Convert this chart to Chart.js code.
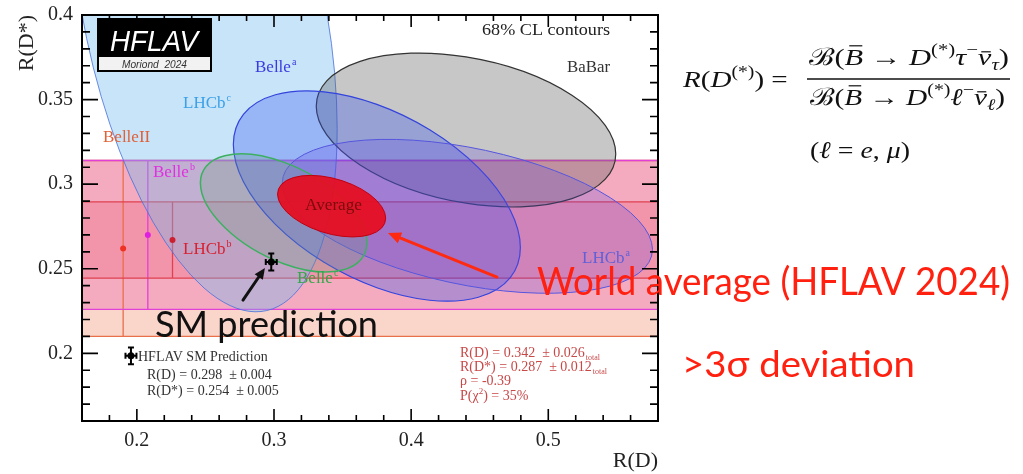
<!DOCTYPE html>
<html><head><meta charset="utf-8">
<script src="https://cdn.jsdelivr.net/npm/chart.js@4.4.1/dist/chart.umd.min.js"></script>
<style>html,body{margin:0;padding:0;background:#fff;overflow:hidden}#wrap{width:1023px;height:474px}</style>
</head><body><div id="wrap"><canvas id="c" width="1023" height="474"></canvas></div>
<script>
// ---------------- data ----------------
const xTickValues = [0.2, 0.3, 0.4, 0.5];
const xTickLabels = ['0.2', '0.3', '0.4', '0.5'];
const yTickValues = [0.2, 0.25, 0.3, 0.35, 0.4];
const yTickLabels = ['0.2', '0.25', '0.3', '0.35', '0.4'];
const xMinorTicks = [0.18,0.20,0.22,0.24,0.26,0.28,0.30,0.32,0.34,0.36,0.38,0.40,0.42,0.44,0.46,0.48,0.50,0.52,0.54,0.56];
const yMinorTicks = [0.17,0.18,0.19,0.20,0.21,0.22,0.23,0.24,0.25,0.26,0.27,0.28,0.29,0.30,0.31,0.32,0.33,0.34,0.35,0.36,0.37,0.38,0.39];

// 2D measurements (68% CL contours)
const ellipseNames   = ['LHCb^c', 'BaBar', 'Belle^a', 'LHCb^a', 'Belle^c', 'Average'];
const ellipseRD      = [0.249, 0.440, 0.375, 0.441, 0.307, 0.342];
const ellipseRDst    = [0.402, 0.332, 0.293, 0.281, 0.283, 0.287];
const ellipseErrRD   = [0.064, 0.072, 0.069, 0.089, 0.040, 0.026];
const ellipseErrRDst = [0.117, 0.030, 0.041, 0.030, 0.023, 0.012];
const ellipseRho     = [-0.39, -0.31, -0.49, -0.43, -0.51, -0.39];

// R(D*)-only measurements (bands)
const bandNames    = ['BelleII', 'Belle^b', 'LHCb^b'];
const bandRDst     = [0.262, 0.270, 0.267];
const bandErr      = [0.052, 0.044, 0.0225];
const bandMarkerRD = [0.190, 0.208, 0.226];

// SM prediction
const smRD = 0.298, smErrRD = 0.004, smRDst = 0.254, smErrRDst = 0.005;
const smLegendRD = 0.1957, smLegendRDst = 0.1985;

// ---------------- styles ----------------
const ellipseStyle = {
  'LHCb^c':  {fill: 'rgba(110,185,240,0.38)', stroke: 'rgba(70,110,220,0.8)', lw: 1},
  'BaBar':   {fill: 'rgba(100,100,100,0.36)', stroke: '#333333', lw: 1.2},
  'Belle^a': {fill: 'rgba(50,80,235,0.32)',  stroke: '#3344dd', lw: 1.2},
  'LHCb^a':  {fill: 'rgba(95,70,225,0.24)',  stroke: '#5555dd', lw: 1},
  'Belle^c': {fill: 'rgba(110,160,130,0.26)', stroke: '#3cb060', lw: 1.5},
  'Average': {fill: 'rgba(232,12,30,0.92)',  stroke: '#c00010', lw: 1}
};
const bandStyle = {
  'BelleII': {fill: 'rgba(240,120,80,0.30)', line: '#e8704a', marker: '#ee3322'},
  'Belle^b': {fill: 'rgba(230,70,170,0.30)', line: '#e040d8', marker: '#e020e0'},
  'LHCb^b':  {fill: 'rgba(240,50,70,0.18)',  line: '#e04050', marker: '#cc2030'}
};
const SERIF = '"Liberation Serif", "DejaVu Serif", serif';

function supText(ctx, main, sup, x, y, size, color) {
  ctx.fillStyle = color;
  ctx.font = size + 'px ' + SERIF;
  ctx.textAlign = 'left'; ctx.textBaseline = 'alphabetic';
  ctx.fillText(main, x, y);
  const w = ctx.measureText(main).width;
  if (sup) {
    ctx.font = Math.round(size * 0.6) + 'px ' + SERIF;
    ctx.fillText(sup, x + w + 1, y - size * 0.42);
  }
}
function fitText(ctx, text, x, y, width, font, color) {
  ctx.save();
  ctx.font = font; ctx.fillStyle = color;
  ctx.textAlign = 'left'; ctx.textBaseline = 'alphabetic';
  const w = ctx.measureText(text).width;
  ctx.translate(x, y); ctx.scale(width / w, 1);
  ctx.fillText(text, 0, 0);
  ctx.restore();
}
function mathRun(ctx, segs, x, y, size, targetW) {
  let total = 0;
  const parts = segs.map(s => {
    const fs = (s.sup || s.sub) ? size * 0.68 : size;
    const font = (s.i ? 'italic ' : '') + fs + 'px ' + SERIF;
    ctx.font = font;
    const w = ctx.measureText(s.t).width;
    total += w;
    return {s, font, w};
  });
  const sc = targetW ? targetW / total : 1;
  ctx.save();
  ctx.translate(x, y); ctx.scale(sc, 1);
  ctx.fillStyle = '#111'; ctx.strokeStyle = '#111'; ctx.textAlign = 'left'; ctx.textBaseline = 'alphabetic';
  let cx = 0;
  for (const p of parts) {
    ctx.font = p.font;
    const dy = p.s.sup ? -size * 0.4 : (p.s.sub ? size * 0.2 : 0);
    ctx.fillText(p.s.t, cx, dy);
    if (p.s.bar) {
      ctx.lineWidth = 1.2;
      ctx.beginPath();
      const by = p.s.t === 'B' ? -size * 0.8 : -size * 0.55;
      ctx.moveTo(cx + p.w * 0.25, by); ctx.lineTo(cx + p.w * 0.95, by); ctx.stroke();
    }
    cx += p.w;
  }
  ctx.restore();
}
function arrow(ctx, x0, y0, x1, y1, color, lw, head) {
  const ang = Math.atan2(y1 - y0, x1 - x0);
  const bx = x1 - head * Math.cos(ang), by = y1 - head * Math.sin(ang);
  ctx.save();
  ctx.strokeStyle = color; ctx.fillStyle = color; ctx.lineWidth = lw; ctx.lineCap = 'round';
  ctx.beginPath(); ctx.moveTo(x0, y0); ctx.lineTo(bx, by); ctx.stroke();
  ctx.beginPath();
  ctx.moveTo(x1, y1);
  ctx.lineTo(bx + head * 0.45 * Math.sin(ang), by - head * 0.45 * Math.cos(ang));
  ctx.lineTo(bx - head * 0.45 * Math.sin(ang), by + head * 0.45 * Math.cos(ang));
  ctx.closePath(); ctx.fill();
  ctx.restore();
}
function errorCross(ctx, xs, ys, cx, cy, ex, ey) {
  const px = xs.getPixelForValue(cx), py = ys.getPixelForValue(cy);
  const x0 = xs.getPixelForValue(cx - ex), x1 = xs.getPixelForValue(cx + ex);
  const y0 = ys.getPixelForValue(cy - ey), y1 = ys.getPixelForValue(cy + ey);
  ctx.save();
  ctx.strokeStyle = '#000'; ctx.lineWidth = 2;
  ctx.beginPath();
  ctx.moveTo(x0, py); ctx.lineTo(x1, py);
  ctx.moveTo(px, y0); ctx.lineTo(px, y1);
  ctx.moveTo(x0, py - 3); ctx.lineTo(x0, py + 3);
  ctx.moveTo(x1, py - 3); ctx.lineTo(x1, py + 3);
  ctx.moveTo(px - 3, y0); ctx.lineTo(px + 3, y0);
  ctx.moveTo(px - 3, y1); ctx.lineTo(px + 3, y1);
  ctx.stroke();
  ctx.restore();
}

const hflavPlugin = {
  id: 'hflav',
  beforeDatasetsDraw(chart) {
    const {ctx, chartArea: a, scales: {x, y}} = chart;
    ctx.save();
    ctx.beginPath(); ctx.rect(a.left, a.top, a.right - a.left, a.bottom - a.top); ctx.clip();
    bandNames.forEach((n, i) => {
      const st = bandStyle[n];
      const yt = y.getPixelForValue(bandRDst[i] + bandErr[i]);
      const yb = y.getPixelForValue(bandRDst[i] - bandErr[i]);
      ctx.fillStyle = st.fill;
      ctx.fillRect(a.left, yt, a.right - a.left, yb - yt);
    });
    bandNames.forEach((n, i) => {
      const st = bandStyle[n];
      const yt = y.getPixelForValue(bandRDst[i] + bandErr[i]);
      const yb = y.getPixelForValue(bandRDst[i] - bandErr[i]);
      const xm = x.getPixelForValue(bandMarkerRD[i]);
      ctx.strokeStyle = st.line; ctx.lineWidth = 1.3;
      ctx.beginPath();
      ctx.moveTo(a.left, yt); ctx.lineTo(a.right, yt);
      ctx.moveTo(a.left, yb); ctx.lineTo(a.right, yb);
      ctx.moveTo(xm, yt); ctx.lineTo(xm, yb);
      ctx.stroke();
    });
    const k = Math.sqrt(2.30);
    ellipseNames.forEach((n, i) => {
      const st = ellipseStyle[n];
      const cx = ellipseRD[i], cy = ellipseRDst[i], sx = ellipseErrRD[i], sy = ellipseErrRDst[i], r = ellipseRho[i];
      const c0x = x.getPixelForValue(cx), c0y = y.getPixelForValue(cy);
      const ax = x.getPixelForValue(cx + k * sx) - c0x;
      const ay = y.getPixelForValue(cy + k * sy * r) - c0y;
      const by = y.getPixelForValue(cy + k * sy * Math.sqrt(1 - r * r)) - c0y;
      ctx.save();
      ctx.beginPath();
      ctx.transform(ax, ay, 0, by, c0x, c0y);
      ctx.arc(0, 0, 1, 0, Math.PI * 2);
      ctx.restore();
      ctx.fillStyle = st.fill; ctx.fill();
      ctx.strokeStyle = st.stroke; ctx.lineWidth = st.lw; ctx.stroke();
    });
    ctx.restore();
  },
  afterDatasetsDraw(chart) {
    const {ctx, chartArea: a, scales: {x, y}} = chart;
    errorCross(ctx, x, y, smRD, smRDst, smErrRD, smErrRDst);
    errorCross(ctx, x, y, smLegendRD, smLegendRDst, smErrRD, smErrRDst);

    ctx.save();
    ctx.strokeStyle = '#000'; ctx.lineWidth = 2;
    ctx.strokeRect(a.left, a.top, a.right - a.left, a.bottom - a.top);
    ctx.lineWidth = 1.6;
    ctx.beginPath();
    const isMaj = (v, arr) => arr.some(m => Math.abs(m - v) < 1e-9);
    xMinorTicks.forEach(v => {
      const px = x.getPixelForValue(v);
      const L = isMaj(v, xTickValues) ? 12 : 6;
      ctx.moveTo(px, a.bottom); ctx.lineTo(px, a.bottom - L);
      ctx.moveTo(px, a.top); ctx.lineTo(px, a.top + L);
    });
    yMinorTicks.concat(yTickValues).forEach(v => {
      const py = y.getPixelForValue(v);
      const L = isMaj(v, yTickValues) ? 16 : 8;
      ctx.moveTo(a.left, py); ctx.lineTo(a.left + L, py);
      ctx.moveTo(a.right, py); ctx.lineTo(a.right - L, py);
    });
    ctx.stroke();
    ctx.restore();

    ctx.save();
    fitText(ctx, '68% CL contours', 482, 35, 128, '17px ' + SERIF, '#222');
    fitText(ctx, 'BaBar', 567, 72, 43, '17px ' + SERIF, '#333');
    supText(ctx, 'Belle', 'a', 255, 72, 17, '#3a3ae0');
    supText(ctx, 'LHCb', 'c', 183, 108, 17, '#3aa0e8');
    supText(ctx, 'BelleII', '', 103, 142, 17, '#e0603a');
    supText(ctx, 'Belle', 'b', 153, 177, 17, '#e030e0');
    fitText(ctx, 'Average', 305, 210, 57, '17px ' + SERIF, '#7a0c0c');
    supText(ctx, 'LHCb', 'b', 183, 254, 17, '#d82030');
    supText(ctx, 'Belle', 'c', 297, 283, 17, '#30a848');
    supText(ctx, 'LHCb', 'a', 582, 263, 17, '#6060d8');

    ctx.fillStyle = '#333'; ctx.font = '14px ' + SERIF; ctx.textAlign = 'left'; ctx.textBaseline = 'alphabetic';
    ctx.fillText('HFLAV SM Prediction', 138, 361);
    ctx.fillText('R(D) = 0.298  \u00b1 0.004', 147, 379);
    ctx.fillText('R(D*) = 0.254  \u00b1 0.005', 147, 395);

    const red = '#c84848';
    ctx.fillStyle = red; ctx.font = '14px ' + SERIF;
    let t = 'R(D) = 0.342  \u00b1 0.026'; ctx.fillText(t, 460, 357);
    let w = ctx.measureText(t).width; ctx.font = '8px ' + SERIF; ctx.fillText('total', 460 + w + 1, 360);
    ctx.font = '14px ' + SERIF;
    t = 'R(D*) = 0.287  \u00b1 0.012'; ctx.fillText(t, 460, 371);
    w = ctx.measureText(t).width; ctx.font = '8px ' + SERIF; ctx.fillText('total', 460 + w + 1, 374);
    ctx.font = '14px ' + SERIF;
    ctx.fillText('\u03c1 = -0.39', 460, 385);
    t = 'P(\u03c7'; ctx.fillText(t, 460, 400);
    w = ctx.measureText(t).width; ctx.font = '9px ' + SERIF; ctx.fillText('2', 460 + w, 394);
    const w2 = ctx.measureText('2').width; ctx.font = '14px ' + SERIF; ctx.fillText(') = 35%', 460 + w + w2, 400);

    ctx.fillStyle = '#000'; ctx.fillRect(97, 18, 115, 54);
    ctx.fillStyle = '#f2f2f2'; ctx.fillRect(99, 57, 111, 13);
    fitText(ctx, 'HFLAV', 110, 51, 88, 'italic 30px "Liberation Sans", Arial, sans-serif', '#ffffff');
    fitText(ctx, 'Moriond  2024', 122, 68, 65, 'italic 11px "Liberation Sans", Arial, sans-serif', '#333');
    ctx.restore();

    arrow(ctx, x.getPixelForValue(0.2774), y.getPixelForValue(0.2315), x.getPixelForValue(0.2934), y.getPixelForValue(0.2505), '#111', 3, 11);
    arrow(ctx, x.getPixelForValue(0.4626), y.getPixelForValue(0.2451), x.getPixelForValue(0.3831), y.getPixelForValue(0.2711), '#ff2a10', 3, 13);
  },
  afterDraw(chart) {
    const ctx = chart.ctx;
    fitText(ctx, 'SM prediction', 155, 337, 223, '36px Lato, "Open Sans", sans-serif', '#111');
    fitText(ctx, 'World average (HFLAV 2024)', 537, 295, 473, '38px Lato, "Open Sans", sans-serif', '#ff2010');
    fitText(ctx, '>3\u03c3 deviation', 682, 377, 233, '36px Lato, "Open Sans", sans-serif', '#ff2010');

    const size = 24;
    mathRun(ctx, [{t: 'R', i: 1}, {t: '('}, {t: 'D', i: 1}, {t: '(*)', sup: 1}, {t: ')'}, {t: ' = '}], 683, 87, size, 112);
    mathRun(ctx, [{t: '\u212c'}, {t: '('}, {t: 'B', i: 1, bar: 1}, {t: ' \u2192 '}, {t: 'D', i: 1}, {t: '(*)', sup: 1},
      {t: '\u03c4', i: 1}, {t: '\u2212', sup: 1}, {t: '\u03bd', i: 1, bar: 1}, {t: '\u03c4', i: 1, sub: 1}, {t: ')'}], 809, 65, size, 200);
    mathRun(ctx, [{t: '\u212c'}, {t: '('}, {t: 'B', i: 1, bar: 1}, {t: ' \u2192 '}, {t: 'D', i: 1}, {t: '(*)', sup: 1},
      {t: '\u2113', i: 1}, {t: '\u2212', sup: 1}, {t: '\u03bd', i: 1, bar: 1}, {t: '\u2113', i: 1, sub: 1}, {t: ')'}], 810, 105, size, 195);
    ctx.save(); ctx.strokeStyle = '#111'; ctx.lineWidth = 1.5;
    ctx.beginPath(); ctx.moveTo(807, 79); ctx.lineTo(1010, 79); ctx.stroke(); ctx.restore();
    mathRun(ctx, [{t: '('}, {t: '\u2113', i: 1}, {t: ' = '}, {t: 'e', i: 1}, {t: ', '}, {t: '\u03bc', i: 1}, {t: ')'}], 810, 158, size, 100);
  }
};

const ctx = document.getElementById('c').getContext('2d');
new Chart(ctx, {
  type: 'scatter',
  data: {
    datasets: [
      {
        label: 'R(D*) measurements',
        data: bandNames.map((n, i) => ({x: bandMarkerRD[i], y: bandRDst[i]})),
        pointRadius: 3, pointBorderWidth: 0,
        pointBackgroundColor: bandNames.map(n => bandStyle[n].marker)
      },
      {
        label: 'SM prediction',
        data: [{x: smRD, y: smRDst}, {x: smLegendRD, y: smLegendRDst}],
        pointRadius: 3.5, pointBorderWidth: 0, pointBackgroundColor: '#000'
      }
    ]
  },
  options: {
    responsive: false, animation: false, events: [],
    layout: {padding: {left: 0, right: 365, top: 15, bottom: 0}},
    plugins: {legend: {display: false}, tooltip: {enabled: false}},
    scales: {
      x: {
        type: 'linear', min: 0.16, max: 0.58,
        afterBuildTicks: s => { s.ticks = xTickValues.map(v => ({value: v})); },
        afterFit: s => { s.height = 53; },
        grid: {display: false}, border: {display: false},
        ticks: {autoSkip: false, maxRotation: 0, padding: 0, color: '#222',
          font: {family: SERIF, size: 20}, callback: (v, i) => xTickLabels[i]},
        title: {display: true, text: 'R(D)', align: 'end', color: '#222',
          font: {family: SERIF, size: 22}, padding: {top: 0, bottom: 0}}
      },
      y: {
        type: 'linear', min: 0.16, max: 0.4,
        afterBuildTicks: s => { s.ticks = yTickValues.map(v => ({value: v})); },
        afterFit: s => { s.width = 82; },
        grid: {display: false}, border: {display: false},
        ticks: {autoSkip: false, padding: 1, color: '#222',
          font: {family: SERIF, size: 20}, callback: (v, i) => yTickLabels[i]},
        title: {display: true, text: 'R(D*)', align: 'end', color: '#222',
          font: {family: SERIF, size: 22}, padding: {top: 14, bottom: 0}}
      }
    }
  },
  plugins: [hflavPlugin]
});
</script>
</body></html>
